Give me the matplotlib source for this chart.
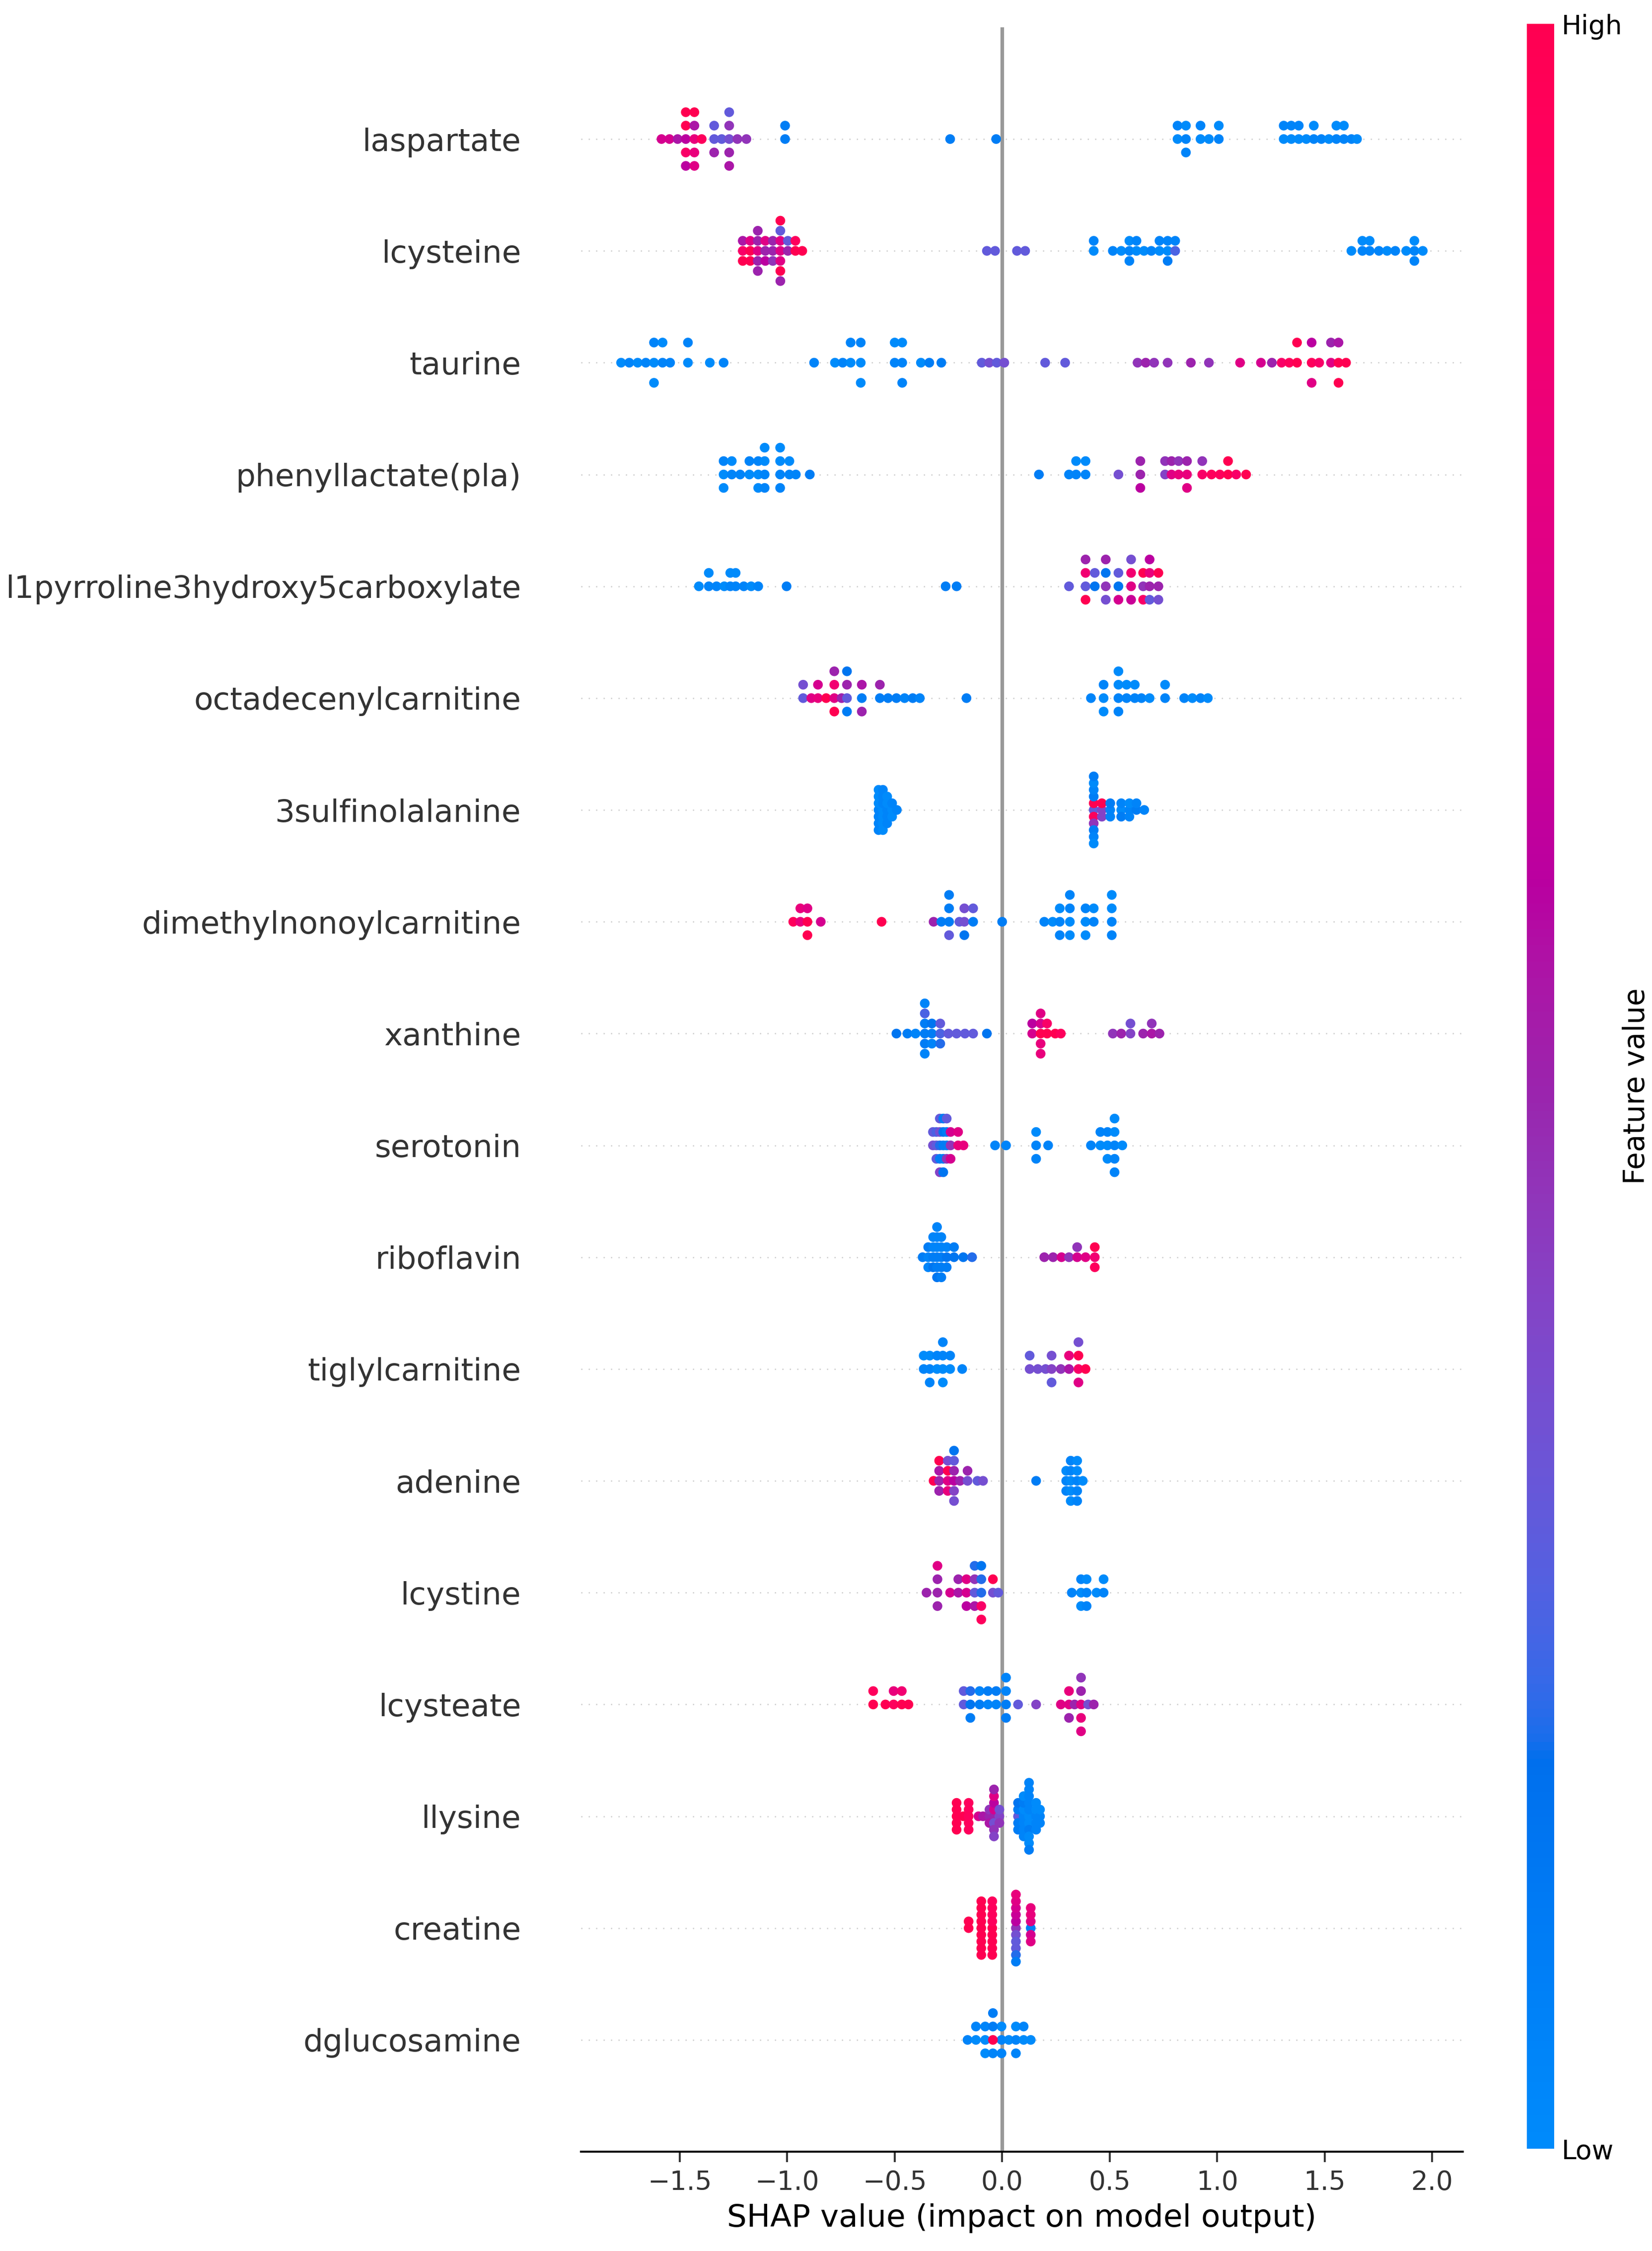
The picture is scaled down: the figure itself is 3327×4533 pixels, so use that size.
import numpy as np
import matplotlib
matplotlib.use("Agg")
import matplotlib.pyplot as plt
from matplotlib.colors import LinearSegmentedColormap, Normalize
from matplotlib.cm import ScalarMappable

# feature names, top to bottom
features = ['laspartate', 'lcysteine', 'taurine', 'phenyllactate(pla)',
            'l1pyrroline3hydroxy5carboxylate', 'octadecenylcarnitine',
            '3sulfinolalanine', 'dimethylnonoylcarnitine', 'xanthine',
            'serotonin', 'riboflavin', 'tiglylcarnitine', 'adenine',
            'lcystine', 'lcysteate', 'llysine', 'creatine', 'dglucosamine']

# SHAP values and (scaled 0..1) feature values
laspartate_shap = [-1.585, -1.548, -1.510,
                   -1.472, -1.472, -1.472, -1.472, -1.472,
                   -1.432, -1.432, -1.432, -1.432, -1.432,
                   -1.398, -1.340, -1.340, -1.340, -1.305,
                   -1.270, -1.270, -1.270, -1.270, -1.270,
                   -1.232, -1.190, -1.010, -1.010, -0.242, -0.028,
                   0.816, 0.816, 0.855, 0.855, 0.855, 0.923, 0.923, 0.962, 1.008, 1.008,
                   1.310, 1.310, 1.345, 1.345, 1.380, 1.380, 1.415, 1.450, 1.450,
                   1.485, 1.520, 1.555, 1.555, 1.590, 1.590, 1.625, 1.651]
laspartate_feat = [0.70, 0.70, 0.55,
                   0.60, 1.00, 0.90, 1.00, 0.60,
                   0.80, 0.55, 0.80, 1.00, 0.75,
                   0.95, 0.30, 0.30, 0.50, 0.30,
                   0.35, 0.45, 0.50, 0.30, 0.55,
                   0.45, 0.45, 0.10, 0.10, 0.10, 0.10,
                   0.00, 0.05, 0.05, 0.00, 0.05, 0.00, 0.05, 0.00, 0.05, 0.00,
                   0.00, 0.05, 0.00, 0.05, 0.00, 0.05, 0.00, 0.05, 0.00,
                   0.05, 0.00, 0.05, 0.00, 0.05, 0.00, 0.05, 0.00]

lcysteine_shap = [-1.207, -1.207, -1.207, -1.172, -1.172, -1.172,
                  -1.137, -1.137, -1.137, -1.137, -1.137,
                  -1.102, -1.102, -1.102, -1.067, -1.067, -1.067,
                  -1.032, -1.032, -1.032, -1.032, -1.032, -1.032, -1.032,
                  -0.997, -0.997, -0.962, -0.962, -0.930,
                  -0.071, -0.033, 0.069, 0.107,
                  0.426, 0.426, 0.515, 0.554, 0.592, 0.592, 0.592, 0.625, 0.625,
                  0.660, 0.694, 0.732, 0.732, 0.770, 0.770, 0.770, 0.805, 0.805,
                  1.625, 1.676, 1.676, 1.710, 1.710, 1.753, 1.791, 1.829, 1.880,
                  1.918, 1.918, 1.918, 1.957]
lcysteine_feat = [0.90, 0.55, 1.00, 1.00, 0.75, 1.00,
                  0.75, 0.50, 0.50, 0.50, 0.50,
                  0.50, 0.75, 0.60, 0.50, 0.50, 0.45,
                  0.75, 0.75, 0.75, 0.30, 1.00, 1.00, 0.50,
                  0.50, 0.30, 1.00, 0.95, 1.00,
                  0.30, 0.30, 0.30, 0.30,
                  0.00, 0.05, 0.05, 0.00, 0.05, 0.00, 0.05, 0.00, 0.05,
                  0.00, 0.05, 0.00, 0.05, 0.00, 0.05, 0.10, 0.25, 0.05,
                  0.00, 0.05, 0.00, 0.05, 0.00, 0.05, 0.00, 0.05, 0.00,
                  0.05, 0.00, 0.05, 0.00]

taurine_shap = [-1.773, -1.735, -1.696, -1.658, -1.620, -1.620, -1.620, -1.580, -1.580,
                -1.545, -1.462, -1.462, -1.360, -1.296,
                -0.875, -0.778, -0.742, -0.705, -0.705, -0.658, -0.658, -0.658,
                -0.500, -0.500, -0.465, -0.465, -0.465, -0.378, -0.339, -0.283,
                -0.095, -0.060, -0.025, 0.010, 0.200, 0.293,
                0.630, 0.668, 0.707, 0.770, 0.878, 0.962,
                1.107, 1.204, 1.255, 1.300, 1.336, 1.372, 1.372, 1.440, 1.440, 1.440,
                1.475, 1.530, 1.530, 1.565, 1.565, 1.565, 1.600]
taurine_feat = [0.00, 0.05, 0.00, 0.05, 0.00, 0.05, 0.00, 0.05, 0.00,
                0.05, 0.00, 0.05, 0.00, 0.05,
                0.05, 0.00, 0.05, 0.00, 0.05, 0.00, 0.05, 0.00,
                0.05, 0.00, 0.05, 0.00, 0.05, 0.00, 0.10, 0.10,
                0.30, 0.35, 0.30, 0.35, 0.30, 0.30,
                0.45, 0.50, 0.45, 0.45, 0.50, 0.45,
                0.75, 0.70, 0.50, 0.90, 0.95, 1.00, 1.00, 0.95, 0.60, 0.75,
                0.90, 0.75, 0.50, 1.00, 0.55, 1.00, 1.00]

phenyllactate_shap = [-1.296, -1.296, -1.296, -1.258, -1.258, -1.219, -1.176, -1.176,
                      -1.135, -1.135, -1.135, -1.105, -1.105, -1.105, -1.105,
                      -1.033, -1.033, -1.033, -1.033, -0.990, -0.990, -0.960, -0.895,
                      0.171, 0.311, 0.344, 0.344, 0.388, 0.388, 0.541, 0.643, 0.643, 0.643,
                      0.758, 0.758, 0.788, 0.788, 0.821, 0.821, 0.860, 0.860, 0.860,
                      0.931, 0.931, 0.974, 1.013, 1.051, 1.051, 1.089, 1.135]
phenyllactate_feat = [0.00, 0.05, 0.00, 0.05, 0.00, 0.05, 0.00, 0.05,
                      0.00, 0.05, 0.00, 0.05, 0.00, 0.05, 0.00,
                      0.05, 0.00, 0.05, 0.00, 0.05, 0.00, 0.05, 0.10,
                      0.10, 0.05, 0.05, 0.00, 0.05, 0.00, 0.35, 0.50, 0.50, 0.60,
                      0.40, 0.45, 0.75, 0.50, 0.80, 0.45, 0.80, 0.50, 0.75,
                      0.90, 0.45, 0.95, 0.95, 1.00, 1.00, 0.90, 1.00]

pyrroline_shap = [-1.411, -1.365, -1.365, -1.329, -1.293, -1.265, -1.265, -1.240, -1.240,
                  -1.202, -1.168, -1.135, -1.003, -0.263, -0.212,
                  0.311, 0.388, 0.388, 0.388, 0.388, 0.431, 0.431,
                  0.482, 0.482, 0.482, 0.482, 0.541, 0.541, 0.541,
                  0.600, 0.600, 0.600, 0.600, 0.656, 0.656, 0.656,
                  0.686, 0.686, 0.686, 0.686, 0.727, 0.727, 0.727]
pyrroline_feat = [0.00, 0.05, 0.00, 0.05, 0.00, 0.05, 0.00, 0.05, 0.00,
                  0.05, 0.00, 0.05, 0.10, 0.10, 0.10,
                  0.30, 0.30, 0.85, 1.00, 0.50, 0.15, 0.30,
                  0.45, 0.15, 0.35, 0.50, 0.15, 0.30, 0.70,
                  0.75, 0.85, 0.65, 0.35, 0.45, 1.00, 0.90,
                  0.50, 0.80, 0.30, 0.60, 0.50, 1.00, 0.35]

octadecenyl_shap = [-0.926, -0.926, -0.888, -0.857, -0.857, -0.819,
                    -0.781, -0.781, -0.781, -0.781, -0.747,
                    -0.722, -0.722, -0.722, -0.722,
                    -0.653, -0.653, -0.653, -0.569, -0.569, -0.531, -0.492,
                    -0.454, -0.416, -0.383, -0.166,
                    0.413, 0.472, 0.472, 0.472, 0.541, 0.541, 0.541, 0.541,
                    0.579, 0.579, 0.617, 0.617, 0.648, 0.686, 0.758, 0.758,
                    0.847, 0.885, 0.923, 0.957]
octadecenyl_feat = [0.30, 0.35, 0.75, 0.80, 0.70, 1.00,
                    0.75, 0.85, 1.00, 0.50, 0.50,
                    0.30, 0.50, 0.10, 0.15,
                    0.10, 0.55, 0.50, 0.10, 0.50, 0.10, 0.10,
                    0.05, 0.10, 0.05, 0.10,
                    0.05, 0.00, 0.05, 0.00, 0.05, 0.00, 0.05, 0.00,
                    0.05, 0.00, 0.05, 0.00, 0.05, 0.00, 0.05, 0.00,
                    0.05, 0.00, 0.05, 0.00]

sulfino_shap = [-0.575, -0.575, -0.575, -0.575, -0.575, -0.575, -0.575,
                -0.555, -0.555, -0.555, -0.555, -0.555, -0.555, -0.555,
                -0.535, -0.535, -0.535, -0.535, -0.535,
                -0.512, -0.512, -0.512, -0.490,
                0.426, 0.426, 0.426, 0.426, 0.426, 0.426, 0.426, 0.426, 0.426, 0.426, 0.426,
                0.464, 0.464, 0.464, 0.503, 0.503, 0.503, 0.554, 0.554, 0.554,
                0.592, 0.592, 0.592, 0.625, 0.625, 0.661]
sulfino_feat = [0.05, 0.00, 0.05, 0.00, 0.05, 0.00, 0.05,
                0.00, 0.05, 0.00, 0.05, 0.00, 0.05, 0.00,
                0.05, 0.00, 0.05, 0.00, 0.05,
                0.00, 0.05, 0.00, 0.05,
                0.30, 1.00, 0.95, 0.10, 0.45, 0.05, 0.10, 0.00, 0.05, 0.10, 0.00,
                0.40, 1.00, 0.40, 0.05, 0.10, 0.05, 0.00, 0.05, 0.10,
                0.05, 0.00, 0.05, 0.10, 0.05, 0.05]

dimethyl_shap = [-0.972, -0.939, -0.939, -0.906, -0.906, -0.906, -0.844, -0.561,
                 -0.319, -0.283, -0.247, -0.247, -0.247, -0.247, -0.199,
                 -0.176, -0.176, -0.176, -0.135, -0.135, 0.000,
                 0.196, 0.235, 0.268, 0.268, 0.268, 0.315, 0.315, 0.315, 0.315,
                 0.388, 0.388, 0.388, 0.426, 0.426, 0.510, 0.510, 0.510, 0.510]
dimethyl_feat = [0.95, 0.80, 0.80, 1.00, 0.75, 1.00, 0.70, 1.00,
                 0.50, 0.10, 0.10, 0.10, 0.30, 0.10, 0.30,
                 0.35, 0.35, 0.15, 0.10, 0.30, 0.10,
                 0.05, 0.00, 0.05, 0.00, 0.05, 0.00, 0.05, 0.00, 0.05,
                 0.00, 0.05, 0.00, 0.05, 0.00, 0.05, 0.00, 0.05, 0.00]

xanthine_shap = [-0.492, -0.441, -0.403, -0.360, -0.360, -0.360, -0.360, -0.360, -0.360,
                 -0.327, -0.327, -0.327, -0.288, -0.288, -0.288,
                 -0.250, -0.212, -0.173, -0.135, -0.071,
                 0.140, 0.140, 0.179, 0.179, 0.179, 0.179, 0.179, 0.209, 0.209, 0.247, 0.273,
                 0.515, 0.554, 0.597, 0.597, 0.656, 0.696, 0.696, 0.732]
xanthine_feat = [0.15, 0.10, 0.05, 0.10, 0.10, 0.10, 0.25, 0.05, 0.05,
                 0.10, 0.15, 0.05, 0.25, 0.30, 0.20,
                 0.30, 0.30, 0.30, 0.30, 0.15,
                 0.70, 0.60, 1.00, 0.70, 0.80, 0.75, 0.80, 1.00, 0.90, 1.00, 0.95,
                 0.45, 0.50, 0.40, 0.35, 0.50, 0.55, 0.45, 0.50]

serotonin_shap = [-0.322, -0.322, -0.306, -0.306, -0.306,
                  -0.290, -0.290, -0.290, -0.290, -0.290,
                  -0.274, -0.274, -0.274, -0.274, -0.274,
                  -0.258, -0.258, -0.258, -0.258, -0.240, -0.240, -0.240,
                  -0.205, -0.205, -0.180,
                  -0.033, 0.018, 0.158, 0.158, 0.158, 0.214,
                  0.413, 0.457, 0.457, 0.490, 0.490, 0.490,
                  0.523, 0.523, 0.523, 0.523, 0.523, 0.559]
serotonin_feat = [0.35, 0.30, 0.30, 0.25, 0.30,
                  0.20, 0.35, 0.10, 0.30, 0.40,
                  0.10, 0.15, 0.10, 0.10, 0.15,
                  0.10, 0.10, 0.45, 0.30, 0.45, 0.70, 0.70,
                  0.80, 0.75, 0.80,
                  0.05, 0.05, 0.05, 0.00, 0.05, 0.05,
                  0.05, 0.00, 0.05, 0.00, 0.05, 0.00,
                  0.05, 0.00, 0.05, 0.00, 0.05, 0.00]

riboflavin_shap = [-0.370, -0.344, -0.344, -0.344, -0.321, -0.321, -0.321, -0.321,
                   -0.303, -0.303, -0.303, -0.303, -0.303, -0.303,
                   -0.283, -0.283, -0.283, -0.283, -0.283,
                   -0.258, -0.258, -0.258, -0.224, -0.224, -0.181, -0.140,
                   0.196, 0.237, 0.276, 0.311, 0.349, 0.349, 0.388, 0.431, 0.431, 0.431]
riboflavin_feat = [0.10, 0.05, 0.10, 0.05, 0.10, 0.05, 0.15, 0.05,
                   0.10, 0.05, 0.10, 0.05, 0.15, 0.05,
                   0.10, 0.05, 0.10, 0.05, 0.10,
                   0.15, 0.05, 0.10, 0.15, 0.10, 0.15, 0.20,
                   0.50, 0.50, 0.70, 0.45, 0.70, 0.45, 0.75, 0.85, 1.00, 0.95]

tiglyl_shap = [-0.365, -0.365, -0.337, -0.337, -0.337, -0.303, -0.303,
               -0.276, -0.276, -0.276, -0.276, -0.242, -0.242, -0.186,
               0.128, 0.128, 0.166, 0.202, 0.230, 0.230, 0.230, 0.273,
               0.311, 0.311, 0.355, 0.355, 0.355, 0.355, 0.388]
tiglyl_feat = [0.05, 0.00, 0.05, 0.00, 0.05, 0.00, 0.05,
               0.00, 0.05, 0.00, 0.05, 0.00, 0.05, 0.05,
               0.35, 0.30, 0.35, 0.35, 0.40, 0.35, 0.30, 0.45,
               0.55, 0.80, 0.90, 1.00, 0.75, 0.35, 1.00]

adenine_shap = [-0.319, -0.293, -0.293, -0.293, -0.293, -0.253, -0.253, -0.253, -0.253,
                -0.224, -0.224, -0.224, -0.224, -0.224, -0.224,
                -0.196, -0.161, -0.161, -0.115, -0.089, 0.158,
                0.298, 0.298, 0.298, 0.319, 0.319, 0.319, 0.319, 0.319,
                0.349, 0.349, 0.349, 0.349, 0.349, 0.375]
adenine_feat = [1.00, 0.50, 0.55, 0.50, 1.00, 0.75, 1.00, 0.80, 0.35,
                0.60, 0.50, 0.40, 0.30, 0.35, 0.15,
                0.50, 0.35, 0.50, 0.30, 0.35, 0.10,
                0.05, 0.00, 0.05, 0.00, 0.05, 0.00, 0.05, 0.00,
                0.05, 0.00, 0.05, 0.00, 0.05, 0.00]

lcystine_shap = [-0.352, -0.301, -0.301, -0.301, -0.301, -0.242, -0.204, -0.204,
                 -0.166, -0.166, -0.166, -0.128, -0.128, -0.128, -0.128,
                 -0.097, -0.097, -0.097, -0.097, -0.097, -0.043, -0.043, -0.018,
                 0.324, 0.367, 0.367, 0.367, 0.393, 0.393, 0.393, 0.439, 0.472, 0.472]
lcystine_feat = [0.50, 0.50, 0.50, 0.50, 0.75, 0.70, 0.55, 0.50,
                 0.70, 0.75, 0.60, 0.30, 0.45, 0.55, 0.20,
                 0.20, 0.20, 0.90, 0.15, 0.95, 0.35, 1.00, 0.30,
                 0.05, 0.00, 0.05, 0.00, 0.05, 0.00, 0.05, 0.00, 0.05, 0.00]

lcysteate_shap = [-0.600, -0.600, -0.543, -0.505, -0.505, -0.467, -0.467, -0.436,
                  -0.179, -0.179, -0.148, -0.148, -0.148, -0.105, -0.105,
                  -0.066, -0.066, -0.028, -0.028, 0.018, 0.018, 0.018, 0.018,
                  0.074, 0.158,
                  0.273, 0.311, 0.311, 0.311, 0.337, 0.367, 0.367, 0.367, 0.367, 0.367,
                  0.400, 0.426]
lcysteate_feat = [1.00, 0.95, 1.00, 0.95, 0.80, 1.00, 0.85, 1.00,
                  0.30, 0.30, 0.15, 0.20, 0.10, 0.10, 0.05,
                  0.05, 0.10, 0.05, 0.10, 0.10, 0.05, 0.10, 0.05,
                  0.30, 0.40,
                  0.75, 0.75, 0.80, 0.50, 0.50, 0.75, 0.50, 0.80, 0.45, 0.75,
                  0.35, 0.50]

llysine_shap = [-0.212, -0.212, -0.212, -0.212, -0.212, -0.181,
                -0.156, -0.156, -0.156, -0.156, -0.156, -0.110, -0.089,
                -0.059, -0.059, -0.059,
                -0.038, -0.038, -0.038, -0.038, -0.038, -0.038, -0.038, -0.038,
                -0.013, -0.013, -0.013,
                0.074, 0.074, 0.074, 0.074, 0.074,
                0.100, 0.100, 0.100, 0.100, 0.100, 0.100, 0.100,
                0.125, 0.125, 0.125, 0.125, 0.125, 0.125, 0.125, 0.125, 0.125, 0.125, 0.125,
                0.158, 0.158, 0.158, 0.158, 0.158, 0.176, 0.176, 0.176]
llysine_feat = [1.00, 1.00, 1.00, 1.00, 1.00, 1.00,
                0.95, 0.95, 0.95, 0.95, 0.95, 0.70, 0.55,
                0.50, 0.45, 0.55,
                0.50, 0.70, 0.35, 0.60, 0.45, 0.75, 0.40, 0.50,
                0.40, 0.35, 0.45,
                0.30, 0.10, 0.10, 0.15, 0.10,
                0.05, 0.00, 0.05, 0.10, 0.05, 0.00, 0.05,
                0.00, 0.05, 0.00, 0.05, 0.10, 0.05, 0.00, 0.05, 0.00, 0.05, 0.10,
                0.05, 0.00, 0.05, 0.00, 0.05, 0.05, 0.00, 0.05]

creatine_shap = [-0.156, -0.156,
                 -0.097, -0.097, -0.097, -0.097, -0.097, -0.097, -0.097, -0.097, -0.097,
                 -0.046, -0.046, -0.046, -0.046, -0.046, -0.046, -0.046, -0.046, -0.046,
                 0.064, 0.064, 0.064, 0.064, 0.064, 0.064, 0.064, 0.064, 0.064, 0.064, 0.064,
                 0.133, 0.133, 0.133, 0.133, 0.133, 0.133]
creatine_feat = [1.00, 1.00,
                 1.00, 1.00, 1.00, 1.00, 1.00, 1.00, 1.00, 1.00, 1.00,
                 1.00, 0.95, 1.00, 0.95, 1.00, 0.95, 1.00, 0.95, 1.00,
                 0.45, 0.60, 0.35, 0.65, 0.30, 0.70, 0.30, 0.75, 0.20, 0.80, 0.10,
                 0.10, 0.75, 0.70, 0.80, 0.75, 0.80]

dglucosamine_shap = [-0.161, -0.122, -0.122, -0.079, -0.079, -0.079,
                     -0.003, -0.003, -0.003, 0.031, 0.064, 0.064, 0.064,
                     0.100, 0.100, 0.133,
                     -0.043, -0.043, -0.043, -0.043]
dglucosamine_feat = [0.05, 0.00, 0.05, 0.00, 0.05, 0.00,
                     0.05, 0.00, 0.05, 0.00, 0.05, 0.00, 0.05,
                     0.00, 0.05, 0.00,
                     1.00, 0.10, 0.05, 0.10]

rows = [(laspartate_shap, laspartate_feat), (lcysteine_shap, lcysteine_feat),
        (taurine_shap, taurine_feat), (phenyllactate_shap, phenyllactate_feat),
        (pyrroline_shap, pyrroline_feat), (octadecenyl_shap, octadecenyl_feat),
        (sulfino_shap, sulfino_feat), (dimethyl_shap, dimethyl_feat),
        (xanthine_shap, xanthine_feat), (serotonin_shap, serotonin_feat),
        (riboflavin_shap, riboflavin_feat), (tiglyl_shap, tiglyl_feat),
        (adenine_shap, adenine_feat), (lcystine_shap, lcystine_feat),
        (lcysteate_shap, lcysteate_feat), (llysine_shap, llysine_feat),
        (creatine_shap, creatine_feat), (dglucosamine_shap, dglucosamine_feat)]


# shap's red_blue colormap (blue -> red through LCH space)
def lch2rgb(l, c, h):
    a = c * np.cos(h)
    b = c * np.sin(h)
    fy = (l + 16) / 116
    fx = fy + a / 500
    fz = fy - b / 200
    def finv(t):
        return np.where(t ** 3 > 0.008856, t ** 3, (t - 16 / 116) / 7.787)
    xyz = np.array([0.95047 * finv(fx), finv(fy), 1.08883 * finv(fz)])
    m = np.array([[3.2406, -1.5372, -0.4986],
                  [-0.9689, 1.8758, 0.0415],
                  [0.0557, -0.2040, 1.0570]])
    rgb = m @ xyz
    rgb = np.where(rgb > 0.0031308,
                   1.055 * np.power(np.clip(rgb, 1e-9, None), 1 / 2.4) - 0.055,
                   12.92 * rgb)
    return np.clip(rgb, 0, 1)


nsteps = 100
l_vals = list(np.linspace(54., 40., nsteps // 2)) + list(np.linspace(40., 54., nsteps // 2))
c_vals = np.linspace(70., 90., nsteps)
h_vals = np.linspace(4.6588, 0.35470565 + 2 * np.pi, nsteps)
cmap_colors = [lch2rgb(l, c, h) for l, c, h in zip(l_vals, c_vals, h_vals)]
red_blue = LinearSegmentedColormap.from_list('red_blue', cmap_colors)

# ============= FIGURE =============
fig = plt.figure(figsize=(3327 / 300, 4533 / 300), dpi=300)
ax = fig.add_axes([0.3517, 0.0441, 0.5338, 0.9438])

n = len(features)
row_height = 0.4
for i, (sv, fv) in enumerate(rows):
    pos = n - 1 - i
    sv = np.array(sv)
    fv = np.array(fv)
    ax.axhline(y=pos, color='#cccccc', lw=0.6, dashes=(1, 5), zorder=-1)

    # beeswarm stacking (same binning as shap's summary plot)
    quant = np.round(100 * (sv - sv.min()) / (sv.max() - sv.min() + 1e-8))
    inds = np.argsort(quant, kind='stable')
    ys = np.zeros(len(sv))
    layer = 0
    last_bin = -1
    for ind in inds:
        if quant[ind] != last_bin:
            layer = 0
        ys[ind] = np.ceil(layer / 2) * ((layer % 2) * 2 - 1)
        layer += 1
        last_bin = quant[ind]
    ys *= 0.9 * (row_height / np.max(ys + 1))

    ax.scatter(sv, pos + ys, c=fv, cmap=red_blue, vmin=0, vmax=1,
               s=22, linewidth=0, zorder=3)

ax.axvline(x=0, color='#999999', lw=1.75, zorder=-1)

ax.set_ylim(-1, n)
ax.set_yticks(range(n))
ax.set_yticklabels(features[::-1], fontsize=15.1)
ax.tick_params('y', length=0, pad=29, labelcolor='#333333')
ax.tick_params('x', labelsize=12.8, color='#333333', labelcolor='#333333',
               length=5, width=0.93)
ax.xaxis.set_ticks_position('bottom')
for side in ['left', 'right', 'top']:
    ax.spines[side].set_visible(False)
ax.spines['bottom'].set_linewidth(0.93)
ax.set_xlabel('SHAP value (impact on model output)', fontsize=15.1)

# colorbar
cax = fig.add_axes([0.9243, 0.0454, 0.0165, 0.944])
sm = ScalarMappable(norm=Normalize(0, 1), cmap=red_blue)
sm.set_array([])
cb = fig.colorbar(sm, cax=cax, ticks=[0, 1])
cb.set_ticklabels(['Low', 'High'])
cb.set_label('Feature value', size=13.9, labelpad=0)
cb.ax.tick_params(labelsize=12.8, length=0)
cb.outline.set_visible(False)

plt.savefig('out.png', dpi=300)
plt.close()
